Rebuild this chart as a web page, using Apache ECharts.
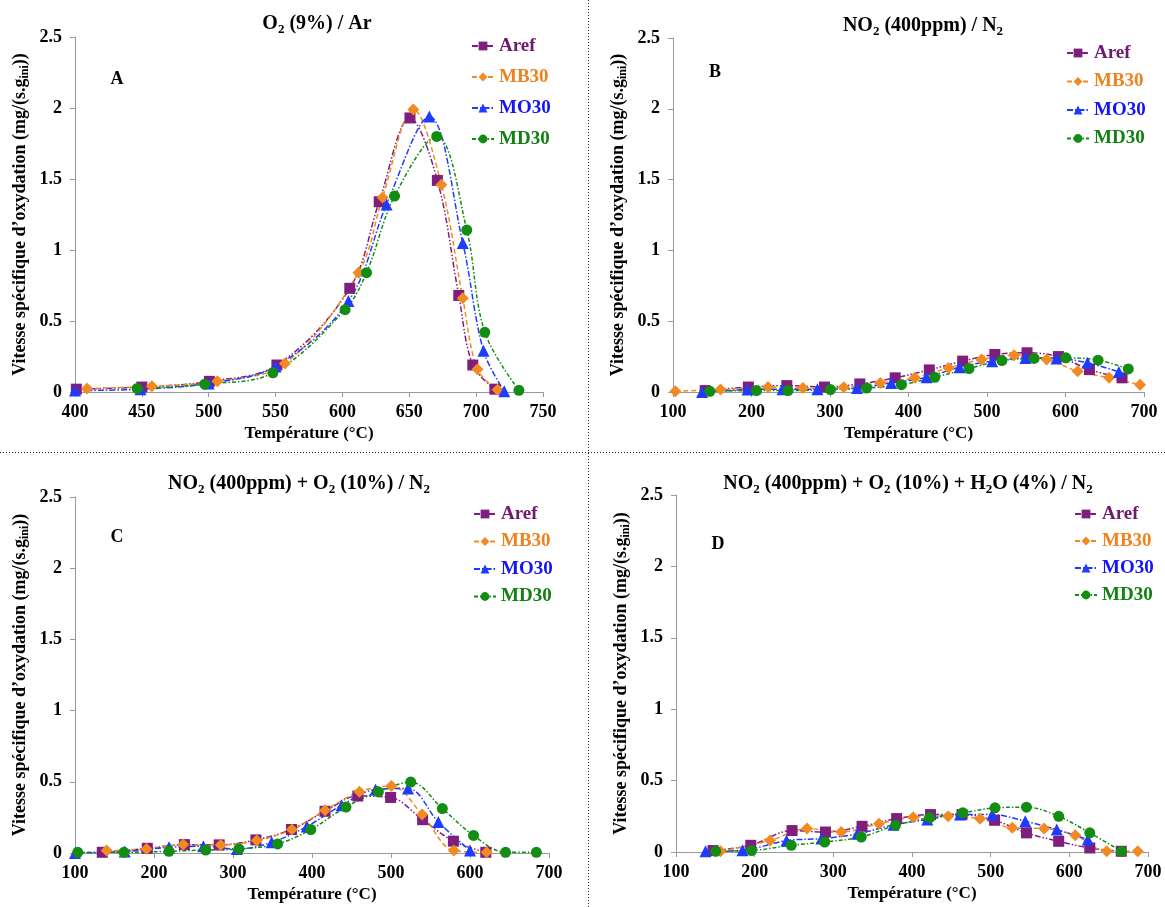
<!DOCTYPE html>
<html>
<head>
<meta charset="utf-8">
<title>Vitesse spécifique d'oxydation</title>
<script src="https://cdn.jsdelivr.net/npm/echarts@6/dist/echarts.min.js"></script>
<style>
  html, body { margin: 0; padding: 0; background: #fff; }
  #chart { width: 1165px; height: 907px; }
</style>
</head>
<body>
<div id="chart"></div>
<script>
// series names, one per sample
const seriesNames = ['Aref', 'MB30', 'MO30', 'MD30'];

// panel A : O2 (9%) / Ar  -> [température, vitesse]
const arefA = [[401, 0.02], [450, 0.035], [500.5, 0.075], [551, 0.19], [605.5, 0.73], [627.5, 1.34], [650.5, 1.93], [671, 1.49], [687, 0.68], [697.5, 0.19], [714, 0.02]];
const mb30A = [[409, 0.025], [457.5, 0.04], [506.5, 0.075], [557, 0.2], [612, 0.84], [630, 1.37], [653, 1.99], [674, 1.46], [690, 0.66], [701, 0.16], [716, 0.015]];
const mo30A = [[400, 0.01], [449, 0.02], [500, 0.06], [550, 0.18], [604.5, 0.64], [633, 1.32], [665, 1.94], [690, 1.05], [705.5, 0.29], [721, 0.005]];
const md30A = [[446.5, 0.025], [497, 0.055], [548, 0.135], [602, 0.58], [618, 0.84], [639, 1.38], [670.5, 1.80], [693, 1.14], [706.5, 0.42], [732, 0.012]];

// panel B : NO2 (400ppm) / N2
const arefB = [[141, 0.01], [196, 0.035], [245, 0.045], [293, 0.035], [338, 0.057], [383, 0.1], [426.5, 0.156], [469, 0.218], [510, 0.265], [551, 0.277], [591, 0.25], [630.5, 0.158], [672, 0.1]];
const mb30B = [[103, 0.005], [160.5, 0.017], [221, 0.035], [265.5, 0.028], [317.5, 0.033], [364, 0.064], [408, 0.1], [451, 0.17], [493, 0.23], [534.5, 0.26], [576, 0.23], [615.5, 0.147], [655.5, 0.1], [695, 0.052]];
const mo30B = [[137, 0.0], [195, 0.017], [239.5, 0.02], [284, 0.02], [334.5, 0.028], [378, 0.064], [423, 0.104], [465, 0.175], [506.5, 0.218], [549, 0.24], [588.5, 0.237], [628, 0.206], [668, 0.142]];
const md30B = [[147, 0.005], [206.5, 0.01], [246.5, 0.01], [300.5, 0.017], [346.5, 0.028], [391, 0.052], [433.5, 0.104], [477, 0.166], [519, 0.222], [560, 0.237], [600.5, 0.241], [641.5, 0.225], [680, 0.163]];

// panel C : NO2 (400ppm) + O2 (10%) / N2
const arefC = [[134.5, 0.005], [191.5, 0.033], [238.5, 0.059], [282.5, 0.057], [329, 0.092], [374, 0.165], [416.5, 0.293], [458, 0.40], [499.5, 0.39], [540, 0.234], [579, 0.083], [620, 0.005]];
const mb30C = [[140, 0.017], [190.5, 0.028], [237, 0.059], [284.5, 0.057], [330, 0.087], [374.5, 0.165], [416.5, 0.30], [460, 0.43], [500.5, 0.47], [539.5, 0.27], [579.5, 0.017], [621, 0.005]];
const mo30C = [[100, 0.0], [163, 0.01], [219, 0.04], [262.5, 0.047], [305, 0.028], [349, 0.075], [393.5, 0.186], [437.5, 0.335], [480.5, 0.446], [521.5, 0.453], [560, 0.217], [600, 0.017]];
const md30C = [[103.5, 0.005], [162, 0.005], [219, 0.012], [265.5, 0.021], [307.5, 0.028], [356.5, 0.064], [398.5, 0.165], [443, 0.323], [484, 0.43], [525, 0.498], [565, 0.312], [604.5, 0.123], [645, 0.005], [684, 0.005]];

// panel D : NO2 (400ppm) + O2 (10%) + H2O (4%) / N2
const arefD = [[147, 0.01], [195, 0.047], [247.5, 0.15], [290, 0.14], [336.5, 0.18], [380.5, 0.234], [423.5, 0.262], [463.5, 0.262], [505, 0.222], [545.5, 0.134], [586.5, 0.075], [626, 0.028], [666, 0.005]];
const mb30D = [[156.5, 0.005], [219.5, 0.08], [266.5, 0.164], [310, 0.14], [358, 0.197], [401.5, 0.244], [446, 0.25], [486.5, 0.232], [527.5, 0.169], [568, 0.164], [607.5, 0.117], [647.5, 0.005], [687, 0.005]];
const mo30D = [[137.5, 0.005], [184.5, 0.012], [240.5, 0.08], [285, 0.094], [330.5, 0.127], [376.5, 0.19], [419.5, 0.227], [461, 0.262], [502, 0.262], [544, 0.216], [584, 0.157], [623.5, 0.087]];
const md30D = [[150.5, 0.005], [196, 0.01], [246.5, 0.047], [289, 0.07], [335.5, 0.105], [379, 0.187], [422.5, 0.24], [464.5, 0.274], [505.5, 0.309], [545.5, 0.314], [586.5, 0.25], [626, 0.134], [666, 0.005]];

const FONT = '"Liberation Serif", "Times New Roman", serif';
const colors = ['#7E1E7E', '#F28A22', '#1E3CFF', '#128C12'];
const textColors = ['#6E1A6E', '#F0821E', '#1414F5', '#118211'];
const symbols = ['rect', 'diamond', 'triangle', 'circle'];
const symbolSizes = [11, 12, 12, 11];
const dashes = [[6, 2, 1.5, 2, 1.5, 2], [5, 3], [6, 2, 1.5, 2], [4, 2, 1.5, 2]];

const panels = [
  {
    data: [arefA, mb30A, mo30A, md30A],
    grid: { left: 75, top: 37, width: 468, height: 355 },
    x: { min: 400, max: 750, interval: 50 },
    title: '{t|O}{s|2}{t| (9%) / Ar}', titleX: 312, titleY: 7,
    letter: 'A', letterX: 117, letterY: 79,
    legendLeft: 466, legendTop: 31, legendGap: 11
  },
  {
    data: [arefB, mb30B, mo30B, md30B],
    grid: { left: 673, top: 38, width: 471, height: 354 },
    x: { min: 100, max: 700, interval: 100 },
    title: '{t|NO}{s|2}{t| (400ppm) / N}{s|2}', titleX: 918, titleY: 9,
    letter: 'B', letterX: 715, letterY: 72,
    legendLeft: 1061, legendTop: 38, legendGap: 8.5
  },
  {
    data: [arefC, mb30C, mo30C, md30C],
    grid: { left: 75, top: 497, width: 474, height: 356 },
    x: { min: 100, max: 700, interval: 100 },
    title: '{t|NO}{s|2}{t| (400ppm) + O}{s|2}{t| (10%) / N}{s|2}', titleX: 294, titleY: 467,
    letter: 'C', letterX: 117, letterY: 537,
    legendLeft: 468, legendTop: 499, legendGap: 7.5
  },
  {
    data: [arefD, mb30D, mo30D, md30D],
    grid: { left: 676, top: 495, width: 472, height: 357 },
    x: { min: 100, max: 700, interval: 100 },
    title: '{t|NO}{s|2}{t| (400ppm) + O}{s|2}{t| (10%) + H}{s|2}{t|O (4%) / N}{s|2}', titleX: 903, titleY: 467,
    letter: 'D', letterX: 718, letterY: 544,
    legendLeft: 1069, legendTop: 499, legendGap: 7
  }
];

const labelStyle = { color: '#000', fontFamily: FONT, fontWeight: 'bold', fontSize: 18 };
const nameStyle = { color: '#000', fontFamily: FONT, fontWeight: 'bold', fontSize: 17 };
const axisLine = { show: true, lineStyle: { color: '#9a9a9a', width: 1 } };
const axisTick = { show: true, inside: false, length: 5, lineStyle: { color: '#9a9a9a' } };

const option = {
  backgroundColor: '#fff',
  animation: false,
  title: panels.map(p => ({
    text: p.title,
    left: p.titleX,
    top: p.titleY,
    textAlign: 'center',
    textStyle: {
      rich: {
        t: { fontFamily: FONT, fontWeight: 'bold', fontSize: 20, color: '#000', lineHeight: 24 },
        s: { fontFamily: FONT, fontWeight: 'bold', fontSize: 13, color: '#000', lineHeight: 13, verticalAlign: 'bottom' }
      }
    }
  })),
  grid: panels.map(p => p.grid),
  xAxis: panels.map((p, i) => ({
    type: 'value',
    gridIndex: i,
    min: p.x.min,
    max: p.x.max,
    interval: p.x.interval,
    axisLine: axisLine,
    axisTick: axisTick,
    splitLine: { show: false },
    axisLabel: Object.assign({ margin: 11 }, labelStyle),
    name: 'Température (°C)',
    nameLocation: 'middle',
    nameGap: 33,
    nameTextStyle: nameStyle
  })),
  yAxis: panels.map((p, i) => ({
    type: 'value',
    gridIndex: i,
    min: 0,
    max: 2.5,
    interval: 0.5,
    axisLine: axisLine,
    axisTick: axisTick,
    splitLine: { show: false },
    axisLabel: Object.assign({ margin: 13 }, labelStyle),
    name: '{t|Vitesse spécifique d’oxydation (mg/(s.g}{s|ini}{t|))}',
    nameLocation: 'middle',
    nameGap: 44,
    nameTextStyle: {
      rich: {
        t: { fontFamily: FONT, fontWeight: 'bold', fontSize: 18, color: '#000', lineHeight: 21 },
        s: { fontFamily: FONT, fontWeight: 'bold', fontSize: 12, color: '#000', lineHeight: 12, verticalAlign: 'bottom' }
      }
    }
  })),
  legend: panels.map(p => ({
    orient: 'vertical',
    left: p.legendLeft,
    top: p.legendTop,
    itemWidth: 22,
    itemHeight: 11,
    itemGap: p.legendGap,
    data: seriesNames.map((n, k) => ({
      name: n,
      textStyle: { color: textColors[k] }
    })),
    textStyle: { fontFamily: FONT, fontWeight: 'bold', fontSize: 19, lineHeight: 20 }
  })),
  graphic: [
    { type: 'line', shape: { x1: 588.5, y1: 0, x2: 588.5, y2: 907 }, style: { stroke: '#222', lineWidth: 1, lineDash: [1, 2] } },
    { type: 'line', shape: { x1: 0, y1: 452.5, x2: 1165, y2: 452.5 }, style: { stroke: '#222', lineWidth: 1, lineDash: [1, 2] } }
  ].concat(panels.map(p => ({
    type: 'text',
    x: p.letterX,
    y: p.letterY,
    style: {
      text: p.letter,
      font: 'bold 18px ' + FONT,
      fill: '#000',
      align: 'center',
      verticalAlign: 'middle'
    }
  }))),
  series: []
};

panels.forEach((p, i) => {
  p.data.forEach((d, k) => {
    option.series.push({
      name: seriesNames[k],
      type: 'line',
      xAxisIndex: i,
      yAxisIndex: i,
      data: d,
      smooth: 0.35,
      symbol: symbols[k],
      symbolSize: symbolSizes[k],
      showAllSymbol: true,
      itemStyle: { color: colors[k] },
      lineStyle: { color: colors[k], width: 1.5, type: dashes[k] }
    });
  });
});

const myChart = echarts.init(document.getElementById('chart'));
myChart.setOption(option);
</script>
</body>
</html>
